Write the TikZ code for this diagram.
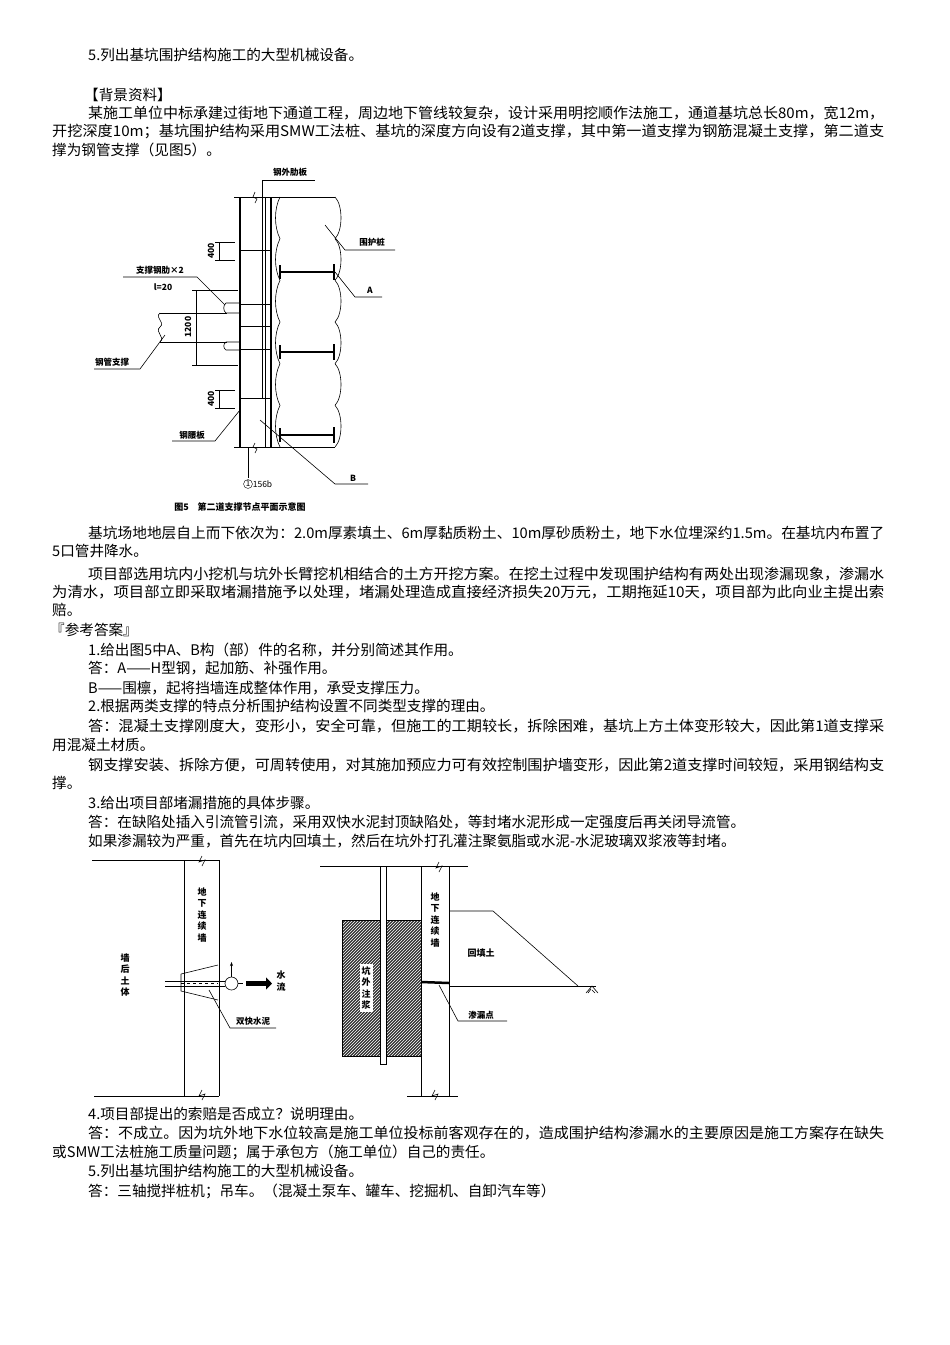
\documentclass[tikz,border=0pt]{standalone}
\usepackage{fontspec}
\usepackage{graphicx}
\setmainfont{Noto Sans CJK SC}
\newfontfamily\cjkf{Noto Sans CJK SC}
\usetikzlibrary{arrows.meta}
\usetikzlibrary{patterns}
\usetikzlibrary{positioning}
\newcommand\bodyfont{\fontsize{14.6}{16}\selectfont\cjkf}
\newcommand\tline[4]{\node[txt] (#1) at (#2,#3) {#4};}
\newcommand\jline[4]{\node[txt] (#1) at (#2,#3) {\resizebox{\dimexpr884pt-#2pt\relax}{\height}{#4}};}
\tikzset{
  txt/.style={anchor=west, inner sep=0pt, font=\bodyfont},
  lab/.style={inner sep=0pt, font=\fontsize{8.5}{9}\selectfont\bfseries\cjkf},
  vlab/.style={lab, align=center, font=\fontsize{9}{11.5}\selectfont\bfseries\cjkf},
  thin/.style={line width=0.6pt},
  thick/.style={line width=1.6pt},
  leader/.style={line width=0.6pt}
}
\begin{document}
\begin{tikzpicture}[x=1pt,y=-1pt]
\useasboundingbox[fill=white] (0,0) rectangle (950,1345);

% text above figure 5
\tline{q5a}{88}{55}{5.列出基坑围护结构施工的大型机械设备。}
\tline{bg}{84}{95}{【背景资料】}
\jline{p1a}{88}{113}{某施工单位中标承建过街地下通道工程，周边地下管线较复杂，设计采用明挖顺作法施工，通道基坑总长80m，宽12m，}
\jline{p1b}{52}{131}{开挖深度10m；基坑围护结构采用SMW工法桩、基坑的深度方向设有2道支撑，其中第一道支撑为钢筋混凝土支撑，第二道支}
\tline{p1c}{52}{150}{撑为钢管支撑（见图5）。}

% figure 5
\begin{scope}
  % wale column
  \draw[thin] (234,197) -- (335,197);
  \draw[thin] (234,447) -- (335,447);
  \draw[thick] (240,197) -- (240,447);
  \draw[thin] (262,180) -- (262,398);
  \draw[thick] (271,197) -- (271,447);
  \draw[thin] (265,197) -- (265,447);
  \foreach \yy in {250,304,326,349,398}
    \draw[thin] (240,\yy) -- (271,\yy);
  \draw[thin] (255,192) -- (253,197) -- (257,199) -- (255,203);
  \draw[thin] (255,443) -- (253,447) -- (257,449) -- (255,453);
  % piles
  \foreach \i in {0,...,5} {
    \pgfmathsetmacro\ya{197+\i*41.67}
    \pgfmathsetmacro\yb{197+(\i+1)*41.67}
    \draw[thin] (335,\ya) .. controls (343,\ya+8) and (343,\yb-8) .. (335,\yb);
    \draw[thin] (280,\ya) .. controls (274,\ya+12) and (274,\yb-12) .. (280,\yb);
  }
  % H steel
  \foreach \yy in {272,352,435} {
    \draw[thick] (280,\yy) -- (334,\yy);
    \draw[thick] (280,\yy-7) -- (280,\yy+7);
    \draw[thick] (334,\yy-8) -- (334,\yy+8);
  }
  % steel pipe strut
  \draw[thin] (160,313) -- (227,313);
  \draw[thin] (160,342) -- (227,342);
  \draw[thin] (160,313) .. controls (154,318) and (166,322) .. (160,327)
              .. controls (154,332) and (166,337) .. (160,342);
  \draw[thin] (240,303) -- (226,303) .. controls (223,305) and (223,311) .. (226,313) -- (240,313);
  \draw[thin] (240,342) -- (226,342) .. controls (223,344) and (223,348) .. (226,350) -- (240,350);
  % dimensions
  \draw[thin] (215,242) -- (235,242) (215,260) -- (235,260) (219,242) -- (219,260);
  \node[lab, rotate=90] (d400a) at (211,251) {400};
  \draw[thin] (192,290) -- (238,290) (192,365) -- (238,365) (196,290) -- (196,365);
  \node[lab, rotate=90] (d1200) at (188,327) {1200};
  \draw[thin] (215,390) -- (235,390) (215,408) -- (235,408) (219,390) -- (219,408);
  \node[lab, rotate=90] (d400b) at (211,399) {400};
  % labels
  \node[lab] (rib) at (290,172) {钢外肋板};
  \draw[leader] (262,180) -- (315,180);
  \node[lab] (pile) at (372,242) {围护桩};
  \draw[leader] (325,225) -- (345,250) -- (395,250);
  \node[lab] (la) at (370,290) {A};
  \draw[leader] (335,272) -- (355,297) -- (382,297);
  \node[lab] (strib) at (160,270) {支撑钢肋×2};
  \draw[leader] (123,277) -- (197,277) -- (225,305);
  \node[lab] (len) at (163,287) {\itshape l\upshape=20};
  \node[lab] (pipe) at (112,362) {钢管支撑};
  \draw[leader] (94,369) -- (140,369) -- (165,335);
  \node[lab] (wale) at (192,435) {钢腰板};
  \draw[leader] (172,441) -- (215,441) -- (240,410);
  \node[lab] (lb) at (353,478) {B};
  \draw[leader] (260,420) -- (335,484) -- (368,484);
  \draw[thin] (248,447) -- (248,478);
  \node[draw, circle, inner sep=0.6pt, font=\fontsize{8}{9}\selectfont] (c1) at (248,484) {1};
  \node[lab, anchor=west, font=\fontsize{8.5}{9}\selectfont] (i56b) at (c1.east) {156b};
  \node[lab, font=\fontsize{9}{10}\selectfont\bfseries\cjkf] (cap5) at (240,507) {图5\quad 第二道支撑节点平面示意图};
\end{scope}

% text between figures
\jline{p2a}{88}{533}{基坑场地地层自上而下依次为：2.0m厚素填土、6m厚黏质粉土、10m厚砂质粉土，地下水位埋深约1.5m。在基坑内布置了}
\tline{p2b}{52}{551}{5口管井降水。}
\jline{p3a}{88}{574}{项目部选用坑内小挖机与坑外长臂挖机相结合的土方开挖方案。在挖土过程中发现围护结构有两处出现渗漏现象，渗漏水}
\jline{p3b}{52}{592}{为清水，项目部立即采取堵漏措施予以处理，堵漏处理造成直接经济损失20万元，工期拖延10天，项目部为此向业主提出索}
\tline{p3c}{52}{610}{赔。}
\tline{ans}{50}{630}{『参考答案』}
\tline{q1}{88}{650}{1.给出图5中A、B构（部）件的名称，并分别简述其作用。}
\tline{a1a}{88}{668}{答：A——H型钢，起加筋、补强作用。}
\tline{a1b}{88}{688}{B——围檩，起将挡墙连成整体作用，承受支撑压力。}
\tline{q2}{88}{706}{2.根据两类支撑的特点分析围护结构设置不同类型支撑的理由。}
\jline{a2a}{88}{726}{答：混凝土支撑刚度大，变形小，安全可靠，但施工的工期较长，拆除困难，基坑上方土体变形较大，因此第1道支撑采}
\tline{a2b}{52}{745}{用混凝土材质。}
\jline{a2c}{88}{765}{钢支撑安装、拆除方便，可周转使用，对其施加预应力可有效控制围护墙变形，因此第2道支撑时间较短，采用钢结构支}
\tline{a2d}{52}{783}{撑。}
\tline{q3}{88}{803}{3.给出项目部堵漏措施的具体步骤。}
\tline{a3a}{88}{822}{答：在缺陷处插入引流管引流，采用双快水泥封顶缺陷处，等封堵水泥形成一定强度后再关闭导流管。}
\tline{a3b}{88}{841}{如果渗漏较为严重，首先在坑内回填土，然后在坑外打孔灌注聚氨脂或水泥-水泥玻璃双浆液等封堵。}

% figure: leak with drain pipe
\begin{scope}
  \draw[thin] (92,860) -- (219,860);
  \draw[thin] (94,1096) -- (219,1096);
  \draw[thin] (184,860) -- (184,1096);
  \draw[thin] (219,860) -- (219,1096);
  \draw[thin] (202,856) -- (199,862) -- (205,860) -- (202,866);
  \draw[thin] (202,1090) -- (199,1096) -- (205,1094) -- (202,1100);
  \node[vlab] (wallL) at (202,915) {地\\下\\连\\续\\墙};
  \node[vlab] (soil) at (125,975) {墙\\后\\土\\体};
  \draw[thin] (181,974) -- (218,965) (181,991) -- (218,1000) (181,974) -- (181,991);
  \draw[thin] (165,981) -- (225,981) (165,986) -- (225,986);
  \draw[thin, dashed] (181,983.5) -- (218,983.5);
  \node[draw, circle, thin, minimum size=13pt, inner sep=0pt] (valve) at (231.5,983.5) {};
  \coordinate (vtop) at (231.5,962);
  \draw[thin, -{Stealth[length=4pt]}] (valve.north) -- (vtop);
  \coordinate (pend) at (243,983.5);
  \draw[thin] (valve.east) -- (pend);
  \coordinate (wa) at (246,983.5);
  \coordinate (wb) at (272,983.5);
  \draw[line width=5pt, -{Triangle[length=6pt,width=12pt]}] (wa) -- (wb);
  \node[vlab] (flow) at (281,981) {水\\流};
  \node[lab] (cem) at (253,1021) {双快水泥};
  \draw[leader] (209,990) -- (230,1028) -- (276,1028);
\end{scope}

% figure: leak with backfill and grouting
\begin{scope}
  \fill[black!80] (342,920) rectangle (421,1056);
  \fill[pattern=north east lines, pattern color=white!75] (342,920) rectangle (421,1056);
  \draw[thin] (342,920) rectangle (421,1056);
  \draw[thin, fill=white] (380,866) rectangle (386,1064);
  \node[vlab, fill=white, inner sep=2pt] (grout) at (366,988) {坑\\外\\注\\浆};
  \draw[thin] (320,866) -- (468,866);
  \draw[thin] (407,1096) -- (458,1096);
  \draw[thin] (421,866) -- (421,1096);
  \draw[thin] (449,866) -- (449,1096);
  \draw[thin] (439,862) -- (436,868) -- (442,866) -- (439,872);
  \draw[thin] (435,1090) -- (432,1096) -- (438,1094) -- (435,1100);
  \node[vlab] (wallR) at (435,920) {地\\下\\连\\续\\墙};
  \draw[thin] (449,911) -- (493,911) -- (578,986);
  \draw[thin] (449,986) -- (596,986);
  \draw[thin] (586,993) -- (592,986) -- (598,993) (588,993) -- (591,989) (595,993) -- (592,990);
  \node[lab, font=\fontsize{9}{10}\selectfont\bfseries\cjkf] (fill) at (481,953) {回填土};
  \draw[line width=2.5pt] (421,982) -- (449,983);
  \node[lab] (leak) at (481,1015) {渗漏点};
  \draw[leader] (439,985) -- (458,1021) -- (507,1021);
\end{scope}

% text after figures
\tline{q4}{88}{1114}{4.项目部提出的索赔是否成立？说明理由。}
\jline{a4a}{88}{1133}{答：不成立。因为坑外地下水位较高是施工单位投标前客观存在的，造成围护结构渗漏水的主要原因是施工方案存在缺失}
\tline{a4b}{52}{1152}{或SMW工法桩施工质量问题；属于承包方（施工单位）自己的责任。}
\tline{q5}{88}{1171}{5.列出基坑围护结构施工的大型机械设备。}
\tline{a5}{88}{1191}{答：三轴搅拌桩机；吊车。（混凝土泵车、罐车、挖掘机、自卸汽车等）}
\end{tikzpicture}
\end{document}
